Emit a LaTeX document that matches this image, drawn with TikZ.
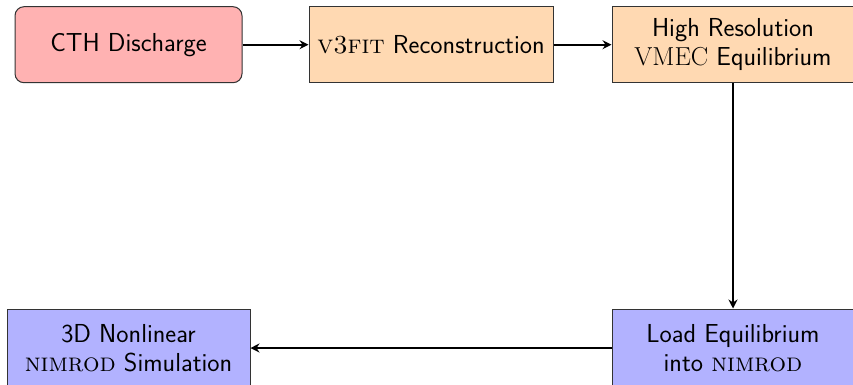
\documentclass[tikz,border=0pt]{standalone}
\usetikzlibrary{arrows.meta}
\renewcommand{\familydefault}{\sfdefault}
\tikzset{
  x=1pt, y=1pt,
  box/.style={draw=black!80, line width=1pt, align=center, inner sep=0pt,
    minimum height=76pt, font=\fontsize{26}{29.5}\selectfont},
  redbox/.style={box, fill=red!30, rounded corners=9pt},
  orbox/.style={box, fill=orange!30},
  bluebox/.style={box, fill=blue!30, minimum height=78pt},
  flow/.style={line width=2pt, -{Stealth[length=9pt,width=9pt,inset=3pt]}}
}
\begin{document}
\begin{tikzpicture}
\useasboundingbox (0,0) rectangle (853,-384);
\begin{scope}
\clip (0,0) rectangle (853,-384);
\node[redbox, minimum width=227pt] (cth) at (128.5,-44.7) {CTH Discharge};
\node[orbox, minimum width=244pt] (v3) at (431,-44.7) {\textrm{\textsc{v3fit}} Reconstruction};
\node[orbox, minimum width=242pt] (vmec) at (733,-44.7) {High Resolution\\\textrm{VMEC} Equilibrium};
\node[bluebox, minimum width=242pt] (load) at (733,-348) {Load Equilibrium\\into \textrm{\textsc{nimrod}}};
\node[bluebox, minimum width=243pt] (sim) at (128.5,-348) {3D Nonlinear\\\textrm{\textsc{nimrod}} Simulation};
\draw[flow] (cth) -- (v3);
\draw[flow] (v3) -- (vmec);
\draw[flow] (vmec) -- (load);
\draw[flow] (load) -- (sim);
\end{scope}
\end{tikzpicture}
\end{document}
